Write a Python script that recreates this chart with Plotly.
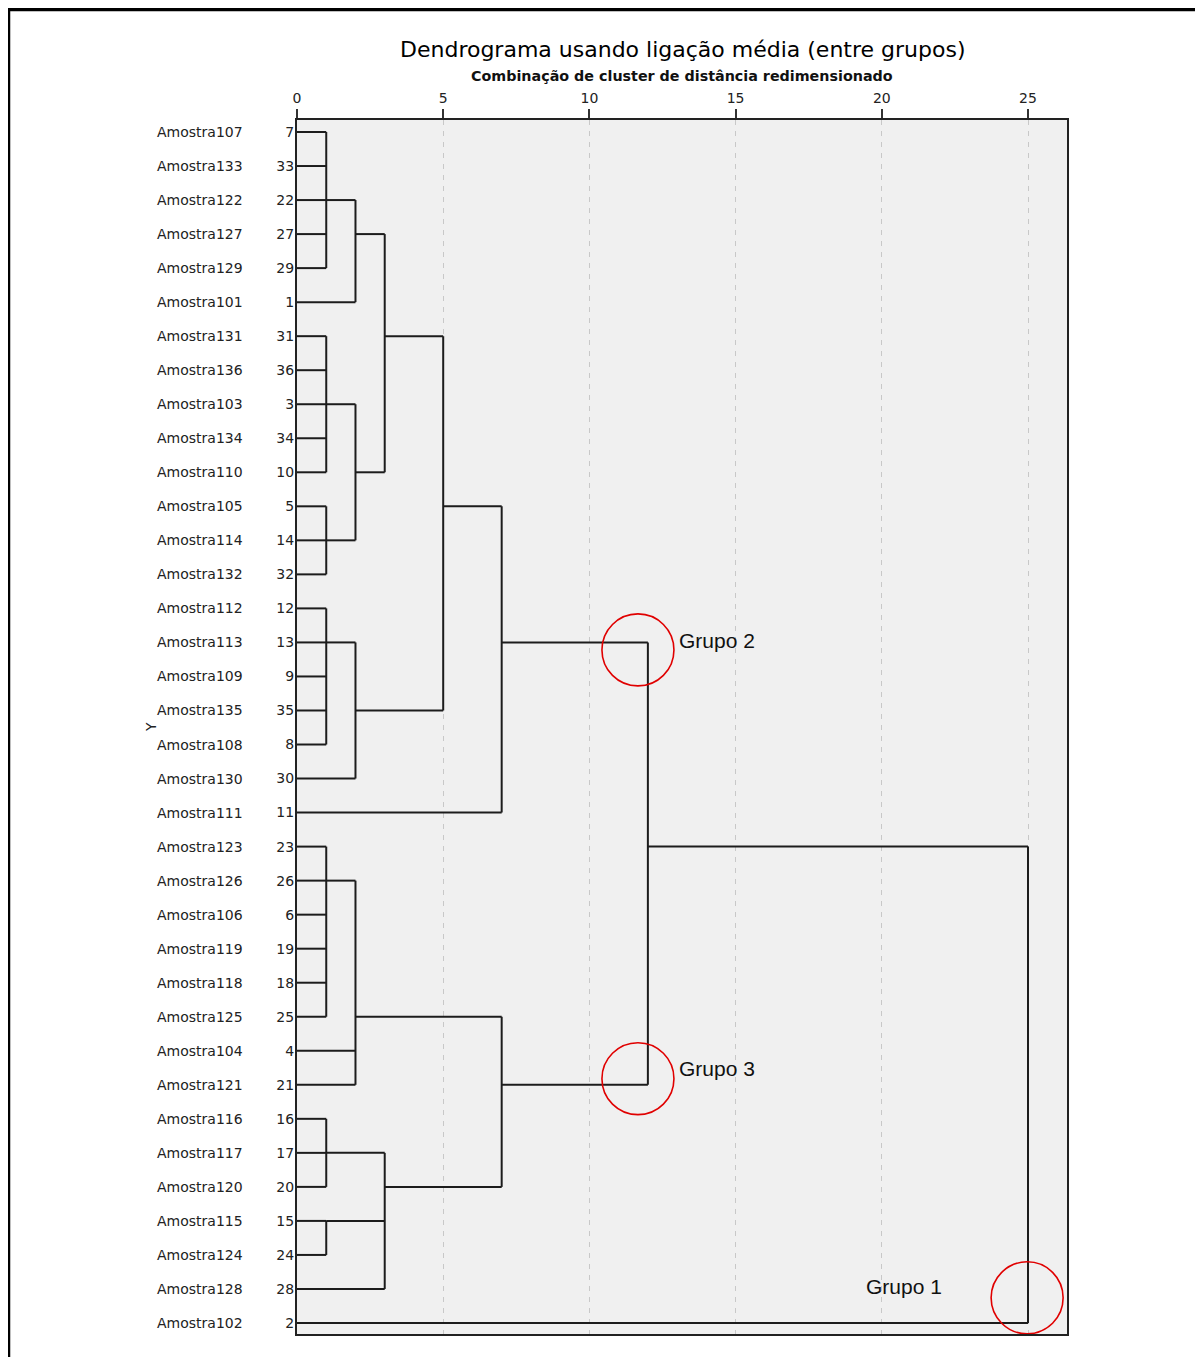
import plotly.graph_objects as go

# ---------------- data ----------------
leaf_labels = ["Amostra107", "Amostra133", "Amostra122", "Amostra127", "Amostra129", "Amostra101",
               "Amostra131", "Amostra136", "Amostra103", "Amostra134", "Amostra110", "Amostra105",
               "Amostra114", "Amostra132", "Amostra112", "Amostra113", "Amostra109", "Amostra135",
               "Amostra108", "Amostra130", "Amostra111", "Amostra123", "Amostra126", "Amostra106",
               "Amostra119", "Amostra118", "Amostra125", "Amostra104", "Amostra121", "Amostra116",
               "Amostra117", "Amostra120", "Amostra115", "Amostra124", "Amostra128", "Amostra102"]
leaf_cases = [7, 33, 22, 27, 29, 1, 31, 36, 3, 34, 10, 5, 14, 32, 12, 13, 9, 35, 8, 30, 11,
              23, 26, 6, 19, 18, 25, 4, 21, 16, 17, 20, 15, 24, 28, 2]

# merges: name, rescaled distance, children (int = leaf row, str = cluster), representative row
merge_names = ["A", "A1", "B", "C", "BC", "ABC", "D", "D30", "G2a", "G2",
               "E", "E2", "F", "Gc", "FG", "G3", "G23", "ROOT"]
merge_heights = [1, 2, 1, 1, 2, 3, 1, 2, 5, 7,
                 1, 2, 1, 1, 3, 7, 12, 25]
merge_children = [[0, 1, 2, 3, 4], ["A", 5], [6, 7, 8, 9, 10], [11, 12, 13], ["B", "C"],
                  ["A1", "BC"], [14, 15, 16, 17, 18], ["D", 19], ["ABC", "D30"], ["G2a", 20],
                  [21, 22, 23, 24, 25, 26], ["E", 27, 28], [29, 30, 31], [32, 33], ["F", "Gc", 34],
                  ["E2", "FG"], ["G2", "G3"], ["G23", 35]]
merge_rows = [2, 3, 8, 12, 10, 6, 15, 17, 11, 15,
              22, 26, 30, 32, 31, 28, 21, None]

group_labels = ["Grupo 1", "Grupo 2", "Grupo 3"]

# ---------------- build segments ----------------
info = {}
xs, ys = [], []
for name, h, ch, row in zip(merge_names, merge_heights, merge_children, merge_rows):
    rows = []
    for c in ch:
        if isinstance(c, int):
            r, x0 = c, 0
        else:
            r, x0 = info[c]
        rows.append(r)
        xs += [x0, h, None]
        ys += [r, r, None]
    xs += [h, h, None]
    ys += [min(rows), max(rows), None]
    info[name] = (row, h)

n = len(leaf_labels)
fig = go.Figure()
fig.add_trace(go.Scatter(x=xs, y=ys, mode="lines", line=dict(color="#1c1c1c", width=2),
                         hoverinfo="skip", showlegend=False))

FONT = "DejaVu Sans"
OFF = 8  # default page body margin
W, H = 1203 - OFF, 1357 - OFF
L, R, T, B = 297 - OFF, 136, 120 - OFF, 23
pw, ph = W - L - R, H - T - B

def px(xp):  # window pixel -> paper x
    return (xp - OFF - L) / pw

def py(yp):  # window pixel -> paper y
    return (H - B - (yp - OFF)) / ph

annotations = []
for i, lab in enumerate(leaf_labels):
    annotations.append(dict(x=px(155), y=i, xref="paper", yref="y", text=lab, showarrow=False,
                            xanchor="left", yanchor="middle", font=dict(family=FONT, size=14, color="#222")))

annotations.append(dict(x=px(141), y=0.5, xref="paper", yref="paper", text="Y", textangle=-90,
                        showarrow=False, font=dict(family=FONT, size=14, color="#222")))
annotations.append(dict(x=0.5, y=py(49), xref="paper", yref="paper",
                        text="Dendrograma usando ligação média (entre grupos)", showarrow=False,
                        yanchor="middle", font=dict(family=FONT, size=22, color="#000")))
annotations.append(dict(x=0.5, y=py(76), xref="paper", yref="paper",
                        text="<b>Combinação de cluster de distância redimensionado</b>", showarrow=False,
                        yanchor="middle", font=dict(family=FONT, size=14.3, color="#111")))

# group labels and circles (positioned in data units)
grp_pos = [(19.39, 33.94), (13.0, 14.93), (13.0, 27.53)]
for t, (gx, gy) in zip(group_labels, grp_pos):
    annotations.append(dict(x=gx, y=gy, xref="x", yref="y", text=t, showarrow=False,
                            xanchor="left", yanchor="middle",
                            font=dict(family="Liberation Sans", size=21, color="#111")))

circles = [(11.66, 15.22), (11.66, 27.82), (24.97, 34.26)]
rx, ry = 36 / 29.24, 36 / 34.03
shapes = []
for cx, cy in circles:
    shapes.append(dict(type="circle", xref="x", yref="y", x0=cx - rx, x1=cx + rx,
                       y0=cy - ry, y1=cy + ry, line=dict(color="#e00000", width=1.6)))

# outer black frame (left and top edges visible)
shapes.append(dict(type="line", xref="paper", yref="paper", x0=px(8.5), x1=px(8.5),
                   y0=py(9), y1=py(1380), line=dict(color="black", width=3.5), layer="above"))
shapes.append(dict(type="line", xref="paper", yref="paper", x0=px(8), x1=px(1220),
                   y0=py(9.5), y1=py(9.5), line=dict(color="black", width=3.5), layer="above"))

fig.update_layout(
    width=W, height=H, autosize=False,
    margin=dict(l=L, r=R, t=T, b=B, pad=0),
    paper_bgcolor="white", plot_bgcolor="#f0f0f0",
    annotations=annotations, shapes=shapes,
    showlegend=False,
)
fig.update_xaxes(range=[0, pw / 29.24], side="top", tickvals=[0, 5, 10, 15, 20, 25],
                 ticks="outside", ticklen=9, tickcolor="#333", tickwidth=1.5,
                 tickfont=dict(family=FONT, size=14, color="#222"),
                 showgrid=True, gridcolor="#c8c8c8", griddash="5px,6px", gridwidth=1,
                 zeroline=False, showline=True, linecolor="#222", linewidth=2, mirror=True,
                 automargin=False, fixedrange=True)
fig.update_yaxes(range=[n - 1 + 11 / 34.03, -12 / 34.03], tickvals=list(range(n)),
                 ticktext=[str(c) for c in leaf_cases], ticks="", ticklabelstandoff=-2,
                 tickfont=dict(family=FONT, size=14, color="#222"),
                 showgrid=False, zeroline=False, showline=True, linecolor="#222", linewidth=2,
                 mirror=True, automargin=False, fixedrange=True)

fig.write_html("out.html")
